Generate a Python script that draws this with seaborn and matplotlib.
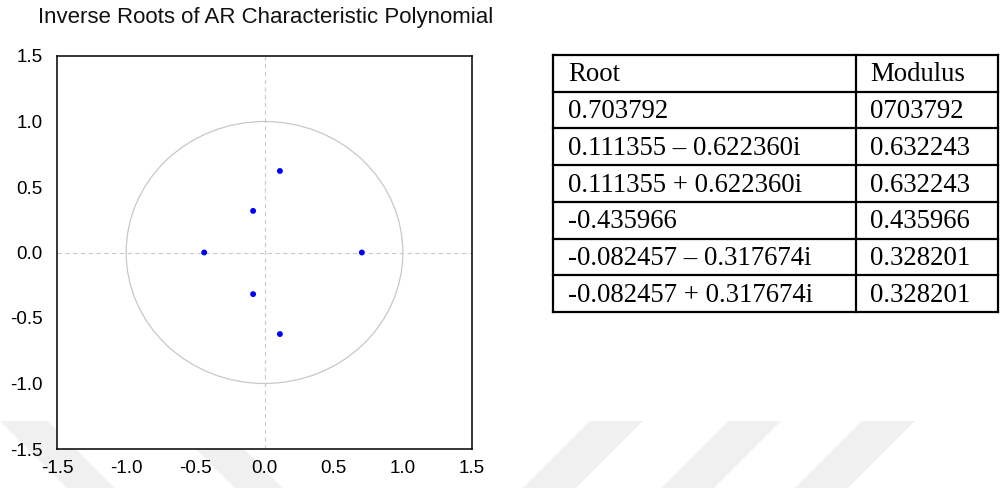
"""Inverse roots of the AR characteristic polynomial, with the root table beside it."""
import matplotlib
matplotlib.use("Agg")
import numpy as np
import pandas as pd
import seaborn as sns
import matplotlib.pyplot as plt
from matplotlib.patches import Circle, Polygon

# Data
root_re = [0.703792, 0.111355, 0.111355, -0.435966, -0.082457, -0.082457]
root_im = [0.0, -0.622360, 0.622360, 0.0, -0.317674, 0.317674]
root_labels = ["0.703792",
               "0.111355 \u2013 0.622360i",
               "0.111355 + 0.622360i",
               "-0.435966",
               "-0.082457 \u2013 0.317674i",
               "-0.082457 + 0.317674i"]
modulus_labels = ["0703792", "0.632243", "0.632243",
                  "0.435966", "0.328201", "0.328201"]
table_header = ["Root", "Modulus"]
ticks = [-1.5, -1.0, -0.5, 0.0, 0.5, 1.0, 1.5]
title = "Inverse Roots of AR Characteristic Polynomial"

df = pd.DataFrame({"re": root_re, "im": root_im})

sns.set_style("white")
plt.rcParams["font.family"] = ["Liberation Sans", "DejaVu Sans"]
plt.rcParams["axes.unicode_minus"] = False

W, H = 1000, 488
fig = plt.figure(figsize=(W / 100, H / 100), dpi=100)
fig.patch.set_facecolor("white")

# Faint watermark stripes in the lower part of the page
bg = fig.add_axes([0, 0, 1, 1], zorder=0)
bg.set_xlim(0, W)
bg.set_ylim(H, 0)
bg.axis("off")
wm = "#f0f0f0"
# "/" stripes on the right
for x0 in [590, 728, 862]:
    bg.add_patch(Polygon([(x0, 421), (x0 + 53, 421), (x0 - 14, 488), (x0 - 67, 488)],
                         closed=True, facecolor=wm, edgecolor="none"))
# "\" stripes on the left
for x0 in [0, 168]:
    bg.add_patch(Polygon([(x0, 421), (x0 + 48, 421), (x0 + 115, 488), (x0 + 67, 488)],
                         closed=True, facecolor=wm, edgecolor="none"))

# Root plot
ax = fig.add_axes([57 / W, 1 - 449 / H, 415 / W, 393 / H], zorder=2)
ax.set_facecolor("white")
ax.add_patch(Circle((0, 0), 1.0, fill=False, edgecolor="#c8c8c8", linewidth=0.9))
ax.axhline(0, color="#c8c8c8", linestyle=(0, (4, 3)), linewidth=0.8)
ax.axvline(0, color="#c8c8c8", linestyle=(0, (4, 3)), linewidth=0.8)
sns.scatterplot(data=df, x="re", y="im", ax=ax, color="#0000ff", s=18,
                edgecolor="none", zorder=3, legend=False)
ax.set_xlim(-1.5, 1.5)
ax.set_ylim(-1.5, 1.5)
ax.set_xticks(ticks)
ax.set_yticks(ticks)
ax.set_xticklabels([f"{t:.1f}" for t in ticks])
ax.set_yticklabels([f"{t:.1f}" for t in ticks])
ax.set_xlabel("")
ax.set_ylabel("")
for s in ax.spines.values():
    s.set_color("black")
    s.set_linewidth(1.1)
ax.tick_params(axis="both", direction="out", length=6, width=0.9, color="black",
               labelsize=13.6, labelcolor="black", pad=2)
ax.tick_params(axis="y", pad=4.5)

fig.text(38 / W, 1 - 22.7 / H, title, fontsize=16, color="#111111",
         ha="left", va="baseline")

# Root table
tab = fig.add_axes([0, 0, 1, 1], zorder=3)
tab.set_xlim(0, W)
tab.set_ylim(H, 0)
tab.axis("off")
tab.patch.set_alpha(0)
x_left, x_mid, x_right = 553, 856, 998
y_top, row_h = 55, 36.7
rows = [table_header] + [[r, m] for r, m in zip(root_labels, modulus_labels)]
n = len(rows)
lw = 1.6
for i in range(n + 1):
    y = y_top + i * row_h
    tab.plot([x_left, x_right], [y, y], color="black", linewidth=lw,
             solid_capstyle="projecting")
for x in (x_left, x_mid, x_right):
    tab.plot([x, x], [y_top, y_top + n * row_h], color="black", linewidth=lw,
             solid_capstyle="projecting")
for i, (r, m) in enumerate(rows):
    yb = y_top + i * row_h + 0.72 * row_h
    tab.text(x_left + 15, yb, r, fontsize=19.3, family=["Liberation Serif", "DejaVu Serif"],
             ha="left", va="baseline", color="black")
    tab.text(x_mid + 14, yb, m, fontsize=19.3, family=["Liberation Serif", "DejaVu Serif"],
             ha="left", va="baseline", color="black")

fig.savefig("out.png", dpi=100, facecolor="white")
